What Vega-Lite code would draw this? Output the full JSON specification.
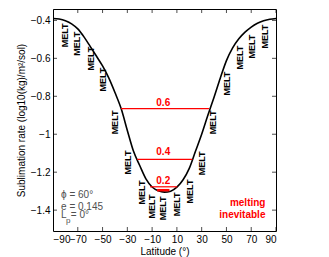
{
  "$schema": "https://vega.github.io/schema/vega-lite/v6.json",
  "autosize": "none",
  "width": 223,
  "height": 222,
  "padding": {"left": 53, "top": 9, "right": 53, "bottom": 26},
  "background": "white",
  "config": {
    "font": "Liberation Sans",
    "view": {"stroke": "black", "strokeWidth": 1},
    "axis": {
      "domain": false, "ticks": false, "labelColor": "black", "titleColor": "black",
      "labelFont": "Liberation Sans", "titleFont": "Liberation Sans",
      "labelFontSize": 10, "titleFontSize": 10, "titleFontWeight": "normal",
      "grid": false, "labelOverlap": false
    }
  },
  "datasets": {
    "curve": [
      {"lat": -90, "v": -0.39}, {"lat": -85, "v": -0.393}, {"lat": -80, "v": -0.402},
      {"lat": -75, "v": -0.418}, {"lat": -70, "v": -0.445}, {"lat": -65, "v": -0.487},
      {"lat": -60, "v": -0.537}, {"lat": -55, "v": -0.588}, {"lat": -50, "v": -0.64},
      {"lat": -45, "v": -0.703}, {"lat": -40, "v": -0.78}, {"lat": -35, "v": -0.865},
      {"lat": -30, "v": -0.98}, {"lat": -25, "v": -1.09}, {"lat": -20, "v": -1.165},
      {"lat": -15, "v": -1.235}, {"lat": -10, "v": -1.278}, {"lat": -5, "v": -1.298},
      {"lat": 0, "v": -1.305}, {"lat": 5, "v": -1.3}, {"lat": 10, "v": -1.279},
      {"lat": 15, "v": -1.24}, {"lat": 20, "v": -1.18}, {"lat": 25, "v": -1.09},
      {"lat": 30, "v": -1.0}, {"lat": 35, "v": -0.9}, {"lat": 40, "v": -0.805},
      {"lat": 45, "v": -0.705}, {"lat": 50, "v": -0.612}, {"lat": 55, "v": -0.545},
      {"lat": 60, "v": -0.497}, {"lat": 65, "v": -0.462}, {"lat": 70, "v": -0.435},
      {"lat": 75, "v": -0.415}, {"lat": 80, "v": -0.402}, {"lat": 85, "v": -0.394},
      {"lat": 90, "v": -0.39}
    ],
    "xticks": [
      {"lat": -90}, {"lat": -70}, {"lat": -50}, {"lat": -30}, {"lat": -10},
      {"lat": 10}, {"lat": 30}, {"lat": 50}, {"lat": 70}, {"lat": 90}
    ],
    "yticks": [
      {"v": -1.4}, {"v": -1.2}, {"v": -1.0}, {"v": -0.8}, {"v": -0.6}, {"v": -0.4}
    ],
    "levels": [
      {"lo": -35.1, "hi": 35.9, "v": -0.865, "w": 1.2},
      {"lo": -22, "hi": 22.5, "v": -1.133, "w": 1.2},
      {"lo": -11.7, "hi": 10.3, "v": -1.277, "w": 1.2},
      {"lo": -6, "hi": 4, "v": -1.295, "w": 2.5}
    ],
    "levelLabels": [
      {"lat": -1, "v": -0.838, "t": "0.6"},
      {"lat": -1, "v": -1.095, "t": "0.4"},
      {"lat": -1, "v": -1.247, "t": "0.2"}
    ],
    "melt": [
      {"lat": -80.3, "v": -0.479}, {"lat": -70.4, "v": -0.523}, {"lat": -59.6, "v": -0.602},
      {"lat": -49.9, "v": -0.712}, {"lat": -40, "v": -0.938}, {"lat": -29.2, "v": -1.149},
      {"lat": -18.4, "v": -1.307}, {"lat": -10.3, "v": -1.381}, {"lat": -1, "v": -1.391},
      {"lat": 10.3, "v": -1.37}, {"lat": 20.6, "v": -1.302}, {"lat": 30, "v": -1.154},
      {"lat": 39.4, "v": -0.938}, {"lat": 50.2, "v": -0.733}, {"lat": 60.9, "v": -0.596},
      {"lat": 70.9, "v": -0.538}, {"lat": 81.1, "v": -0.486}
    ],
    "params": [
      {"lat": -83.5, "v": -1.336, "t": "ϕ = 60°"},
      {"lat": -83.5, "v": -1.397, "t": "e = 0.145"},
      {"lat": -83.5, "v": -1.441, "t": "L"},
      {"lat": -75.6, "v": -1.441, "t": "= 0°"}
    ],
    "sub": [
      {"lat": -79.6, "v": -1.466, "t": "p"}
    ],
    "note": [
      {"lat": 81.5, "v": -1.376, "t": "melting"},
      {"lat": 81.5, "v": -1.442, "t": "inevitable"}
    ]
  },
  "layer": [
    {
      "data": {"name": "curve"},
      "mark": {"type": "line", "color": "black", "strokeWidth": 1.6, "interpolate": "monotone"},
      "encoding": {
        "x": {"field": "lat", "type": "quantitative",
              "scale": {"domain": [-90, 90], "nice": false, "zero": false},
              "axis": {"orient": "bottom", "values": [-90, -70, -50, -30, -10, 10, 30, 50, 70, 90],
                       "title": "Latitude (°)", "labelPadding": 3, "titlePadding": 2, "format": "d"}},
        "y": {"field": "v", "type": "quantitative",
              "scale": {"domain": [-1.51, -0.34], "nice": false, "zero": false},
              "axis": {"orient": "left", "values": [-1.4, -1.2, -1, -0.8, -0.6, -0.4],
                       "title": "Sublimation rate (log10(kg)/m²/sol)", "labelPadding": 3, "titlePadding": 4,
                       "format": "~g"}}
      }
    },
    {
      "data": {"name": "xticks"},
      "mark": {"type": "tick", "orient": "vertical", "color": "black", "size": 8, "thickness": 1, "clip": true},
      "encoding": {
        "x": {"field": "lat", "type": "quantitative", "axis": null},
        "y": {"datum": -1.51, "type": "quantitative", "axis": null}
      }
    },
    {
      "data": {"name": "xticks"},
      "mark": {"type": "tick", "orient": "vertical", "color": "black", "size": 8, "thickness": 1, "clip": true},
      "encoding": {
        "x": {"field": "lat", "type": "quantitative", "axis": null},
        "y": {"datum": -0.34, "type": "quantitative", "axis": null}
      }
    },
    {
      "data": {"name": "yticks"},
      "mark": {"type": "tick", "orient": "horizontal", "color": "black", "size": 8, "thickness": 1, "clip": true},
      "encoding": {
        "y": {"field": "v", "type": "quantitative", "axis": null},
        "x": {"datum": -90, "type": "quantitative", "axis": null}
      }
    },
    {
      "data": {"name": "yticks"},
      "mark": {"type": "tick", "orient": "horizontal", "color": "black", "size": 8, "thickness": 1, "clip": true},
      "encoding": {
        "y": {"field": "v", "type": "quantitative", "axis": null},
        "x": {"datum": 90, "type": "quantitative", "axis": null}
      }
    },
    {
      "data": {"name": "levels"},
      "mark": {"type": "rule", "color": "#ff0000"},
      "encoding": {
        "x": {"field": "lo", "type": "quantitative", "axis": null},
        "x2": {"field": "hi"},
        "y": {"field": "v", "type": "quantitative", "axis": null},
        "strokeWidth": {"field": "w", "type": "quantitative", "scale": null}
      }
    },
    {
      "data": {"name": "levelLabels"},
      "mark": {"type": "text", "color": "#ff0000", "fontWeight": "bold", "fontSize": 10, "align": "center", "baseline": "middle"},
      "encoding": {
        "x": {"field": "lat", "type": "quantitative", "axis": null},
        "y": {"field": "v", "type": "quantitative", "axis": null},
        "text": {"field": "t"}
      }
    },
    {
      "data": {"name": "melt"},
      "mark": {"type": "text", "color": "black", "fontWeight": "bold", "fontSize": 9, "angle": 270, "align": "center", "baseline": "middle"},
      "encoding": {
        "x": {"field": "lat", "type": "quantitative", "axis": null},
        "y": {"field": "v", "type": "quantitative", "axis": null},
        "text": {"value": "MELT"}
      }
    },
    {
      "data": {"name": "params"},
      "mark": {"type": "text", "color": "#505050", "fontSize": 10, "align": "left", "baseline": "alphabetic"},
      "encoding": {
        "x": {"field": "lat", "type": "quantitative", "axis": null},
        "y": {"field": "v", "type": "quantitative", "axis": null},
        "text": {"field": "t"}
      }
    },
    {
      "data": {"name": "sub"},
      "mark": {"type": "text", "color": "#505050", "fontSize": 8, "align": "left", "baseline": "alphabetic"},
      "encoding": {
        "x": {"field": "lat", "type": "quantitative", "axis": null},
        "y": {"field": "v", "type": "quantitative", "axis": null},
        "text": {"field": "t"}
      }
    },
    {
      "data": {"name": "note"},
      "mark": {"type": "text", "color": "#ff0000", "fontWeight": "bold", "fontSize": 10, "align": "right", "baseline": "alphabetic"},
      "encoding": {
        "x": {"field": "lat", "type": "quantitative", "axis": null},
        "y": {"field": "v", "type": "quantitative", "axis": null},
        "text": {"field": "t"}
      }
    }
  ],
  "resolve": {"axis": {"x": "independent", "y": "independent"}}
}
